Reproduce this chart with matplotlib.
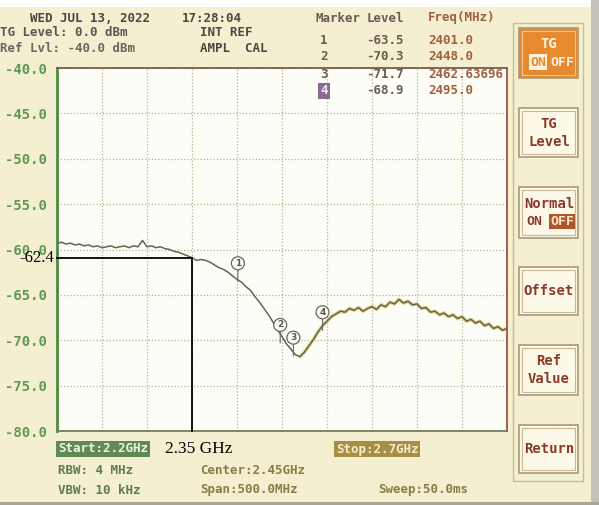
import numpy as np
import matplotlib
matplotlib.use("Agg")
import matplotlib.pyplot as plt
from matplotlib.patches import Rectangle

# ---------------- data ----------------
start_mhz = 2200
stop_mhz = 2700
trace_db = [
    -59.3, -59.2, -59.4, -59.3, -59.5, -59.4, -59.6, -59.5, -59.7, -59.6,
    -59.8, -59.7, -59.6, -59.8, -59.7, -59.6, -59.8, -59.6, -59.7, -59.0,
    -59.7, -59.6, -59.8, -59.7, -59.9, -60.0, -60.2, -60.3, -60.5, -60.7,
    -60.9, -61.2, -61.1, -61.2, -61.4, -61.7, -62.0, -62.2, -62.5, -62.9,
    -63.3, -63.6, -64.1, -64.5, -65.2, -65.8, -66.5, -67.2, -68.0, -68.8,
    -69.6, -70.4, -71.0, -71.6, -71.8, -71.3, -70.6, -69.9, -69.1, -68.4,
    -67.9, -67.4, -67.1, -66.8, -66.9, -66.5, -66.7, -66.4, -66.8, -66.5,
    -66.3, -66.6, -66.1, -66.3, -65.8, -66.0, -65.5, -65.9, -65.7, -66.1,
    -66.0, -66.5, -66.4, -66.9, -66.8, -67.2, -67.0, -67.4, -67.2, -67.6,
    -67.4, -67.9, -67.7, -68.1, -67.9, -68.4, -68.2, -68.7, -68.5, -68.9,
    -68.7,
]
marker_ids = ["1", "2", "3", "4"]
marker_level = [-63.5, -70.3, -71.7, -68.9]
marker_freq = [2401.0, 2448.0, 2462.63696, 2495.0]
marker_freq_text = ["2401.0", "2448.0", "2462.63696", "2495.0"]
y_ticks = [-40, -45, -50, -55, -60, -65, -70, -75, -80]
y_tick_labels = ["-40.0", "-45.0", "-50.0", "-55.0", "-60.0", "-65.0", "-70.0", "-75.0", "-80.0"]
cut_freq = 2350
cut_label = "-62.4"
cut_freq_label = "2.35 GHz"

freq = np.linspace(start_mhz, stop_mhz, len(trace_db))
trace = np.array(trace_db)

# ---------------- figure ----------------
W, H = 599, 505
fig = plt.figure(figsize=(W / 100, H / 100), dpi=100)
fig.patch.set_facecolor("#f4efd0")

bg = fig.add_axes([0, 0, 1, 1])
bg.set_xlim(0, W)
bg.set_ylim(H, 0)
bg.axis("off")
bg.set_zorder(0)

fg = fig.add_axes([0, 0, 1, 1])
fg.set_xlim(0, W)
fg.set_ylim(H, 0)
fg.axis("off")
fg.patch.set_alpha(0)
fg.set_zorder(3)

# photo edges
bg.add_patch(Rectangle((0, 0), W, 7, fc="#fdfdfb", ec="none"))
bg.add_patch(Rectangle((591, 0), 8, H, fc="#c4c2b8", ec="none"))
bg.add_patch(Rectangle((0, 502), W, 3, fc="#a9a699", ec="none"))

mono = "DejaVu Sans Mono"
dark = "#4a4843"

# header texts
fg.text(30, 18, "WED JUL 13, 2022", family=mono, weight="bold", fontsize=9, color=dark, va="center")
fg.text(182, 18, "17:28:04", family=mono, weight="bold", fontsize=9, color=dark, va="center")
fg.text(0, 33, "TG Level: 0.0 dBm", family=mono, weight="bold", fontsize=9, color="#5a5852", va="center")
fg.text(0, 48, "Ref Lvl: -40.0 dBm", family=mono, weight="bold", fontsize=9, color="#6a6860", va="center")
fg.text(200, 33, "INT REF", family=mono, weight="bold", fontsize=9, color=dark, va="center")
fg.text(200, 48, "AMPL  CAL", family=mono, weight="bold", fontsize=9, color=dark, va="center")

# marker table
fg.text(315, 18, "Marker", family=mono, weight="bold", fontsize=9, color="#6a5a52", va="center")
fg.text(367, 18, "Level", family=mono, weight="bold", fontsize=9, color="#6a5a52", va="center")
fg.text(428, 18, "Freq(MHz)", family=mono, weight="bold", fontsize=9, color="#a0603e", va="center")
row_y = [40, 57, 74, 91]
for i, (mid, lv, ft) in enumerate(zip(marker_ids, marker_level, marker_freq_text)):
    if i == 3:
        fg.text(324, row_y[i], mid, family=mono, weight="bold", fontsize=9, color="#f0e8f0",
                ha="center", va="center",
                bbox=dict(boxstyle="square,pad=0.15", fc="#8a6a90", ec="none"))
    else:
        fg.text(324, row_y[i], mid, family=mono, weight="bold", fontsize=9, color="#6a5a52",
                ha="center", va="center")
    fg.text(366, row_y[i], f"{lv:.1f}", family=mono, weight="bold", fontsize=9, color="#6a5a52",
            va="center")
    fg.text(428, row_y[i], ft, family=mono, weight="bold", fontsize=9, color="#a0603e",
            va="center")

# bottom texts
fg.text(58, 449, "Start:2.2GHz", family=mono, weight="bold", fontsize=9, color="#eef4e0", va="center",
        bbox=dict(boxstyle="square,pad=0.15", fc="#5f8a55", ec="none"))
fg.text(336, 449, "Stop:2.7GHz", family=mono, weight="bold", fontsize=9, color="#f8eccc", va="center",
        bbox=dict(boxstyle="square,pad=0.15", fc="#a68e45", ec="none"))
fg.text(58, 470, "RBW: 4 MHz", family=mono, weight="bold", fontsize=9, color="#5e7a5a", va="center")
fg.text(58, 490, "VBW: 10 kHz", family=mono, weight="bold", fontsize=9, color="#5e7a5a", va="center")
fg.text(200, 470, "Center:2.45GHz", family=mono, weight="bold", fontsize=9, color="#8a7c45", va="center")
fg.text(200, 490, "Span:500.0MHz", family=mono, weight="bold", fontsize=9, color="#8a7c45", va="center")
fg.text(378, 490, "Sweep:50.0ms", family=mono, weight="bold", fontsize=9, color="#8a7c45", va="center")

# soft-key panel
bg.add_patch(Rectangle((513, 23), 70, 458, fc="none", ec="#cbbd95", lw=1.0))
buttons = [
    (28, 78, ["TG", "ON OFF"], True),
    (108, 157, ["TG", "Level"], False),
    (187, 238, ["Normal", "ON OFF"], False),
    (267, 315, ["Offset"], False),
    (345, 395, ["Ref", "Value"], False),
    (425, 473, ["Return"], False),
]
btn_text = "#8b3a2a"
for top, bot, lines, active in buttons:
    fc = "#e8892e" if active else "#fcf9e8"
    bg.add_patch(Rectangle((519, top), 59, bot - top, fc=fc, ec="#a89878", lw=1.2))
    bg.add_patch(Rectangle((522, top + 3), 53, bot - top - 6, fc="none",
                           ec="#f4c89a" if active else "#c8b894", lw=0.8))
    cy = (top + bot) / 2
    n = len(lines)
    for k, t in enumerate(lines):
        yy = cy + (k - (n - 1) / 2) * 18
        col = "#fff6ea" if active else btn_text
        if t == "ON OFF":
            if active:
                fg.text(538, yy, "ON", family=mono, weight="bold", fontsize=9.5, color="#e8892e",
                        ha="center", va="center",
                        bbox=dict(boxstyle="square,pad=0.1", fc="#fff3e0", ec="none"))
                fg.text(562, yy, "OFF", family=mono, weight="bold", fontsize=9.5, color=col,
                        ha="center", va="center")
            else:
                fg.text(534, yy, "ON", family=mono, weight="bold", fontsize=9.5, color=col,
                        ha="center", va="center")
                fg.text(562, yy, "OFF", family=mono, weight="bold", fontsize=9.5, color="#fbe6c8",
                        ha="center", va="center",
                        bbox=dict(boxstyle="square,pad=0.1", fc="#b0542e", ec="none"))
        else:
            fg.text(549, yy, t, family=mono, weight="bold", fontsize=10, color=col,
                    ha="center", va="center")

# ---------------- plot area ----------------
L, R, T, B = 57, 507, 68, 431
ax = fig.add_axes([L / W, 1 - B / H, (R - L) / W, (B - T) / H])
ax.set_zorder(1)
ax.set_facecolor("#fdfdf7")
ax.set_xlim(start_mhz, stop_mhz)
ax.set_ylim(-80, -40)
ax.set_xticks(np.linspace(start_mhz, stop_mhz, 11))
ax.set_xticklabels([])
ax.set_yticks(y_ticks)
ax.set_yticklabels(y_tick_labels, family=mono, weight="bold", fontsize=10, color="#5f9a55")
ax.tick_params(length=0, pad=7)
ax.grid(True, linestyle=(0, (1, 1.6)), color="#b9b28a", lw=0.9)
ax.spines["left"].set_color("#4f8a45")
ax.spines["left"].set_linewidth(2.0)
ax.spines["top"].set_color("#7a5a48")
ax.spines["top"].set_linewidth(1.3)
ax.spines["right"].set_color("#a0503a")
ax.spines["right"].set_linewidth(1.3)
ax.spines["bottom"].set_color("#6f7f5a")
ax.spines["bottom"].set_linewidth(1.3)

# trace
right_part = freq >= 2470
ax.plot(freq[right_part], trace[right_part], color="#d8c25e", lw=2.6, alpha=0.7, zorder=2)
ax.plot(freq, trace, color="#67634f", lw=1.1, zorder=3)

# markers
for mid, mf, ml in zip(marker_ids, marker_freq, marker_level):
    ax.annotate(mid, xy=(mf, ml), xytext=(0, 18), textcoords="offset pixels",
                ha="center", va="center", fontsize=6.5, color="#5a5850", weight="bold",
                bbox=dict(boxstyle="circle,pad=0.22", fc="#fbfbf3", ec="#6a6860", lw=0.9),
                arrowprops=dict(arrowstyle="-", color="#6a6860", lw=0.8, shrinkA=0, shrinkB=0),
                zorder=4)

# user overlay (black cut lines)
cut_db = np.interp(cut_freq, freq, trace)
ax.plot([start_mhz, cut_freq], [cut_db, cut_db], color="black", lw=1.3, zorder=5, clip_on=False)
ax.plot([cut_freq, cut_freq], [cut_db, -80], color="black", lw=1.3, zorder=5, clip_on=False)
ax.annotate(cut_label, xy=(start_mhz, cut_db), xytext=(-3, 0), textcoords="offset pixels",
            ha="right", va="center", family="Liberation Serif", fontsize=12, color="black",
            annotation_clip=False, zorder=6)
ax.annotate(cut_freq_label, xy=(cut_freq, -80), xytext=(-27, -18), textcoords="offset pixels",
            ha="left", va="center", family="Liberation Serif", fontsize=12.5, color="black",
            annotation_clip=False, zorder=6)

fig.savefig("out.png", dpi=100, facecolor=fig.get_facecolor())
